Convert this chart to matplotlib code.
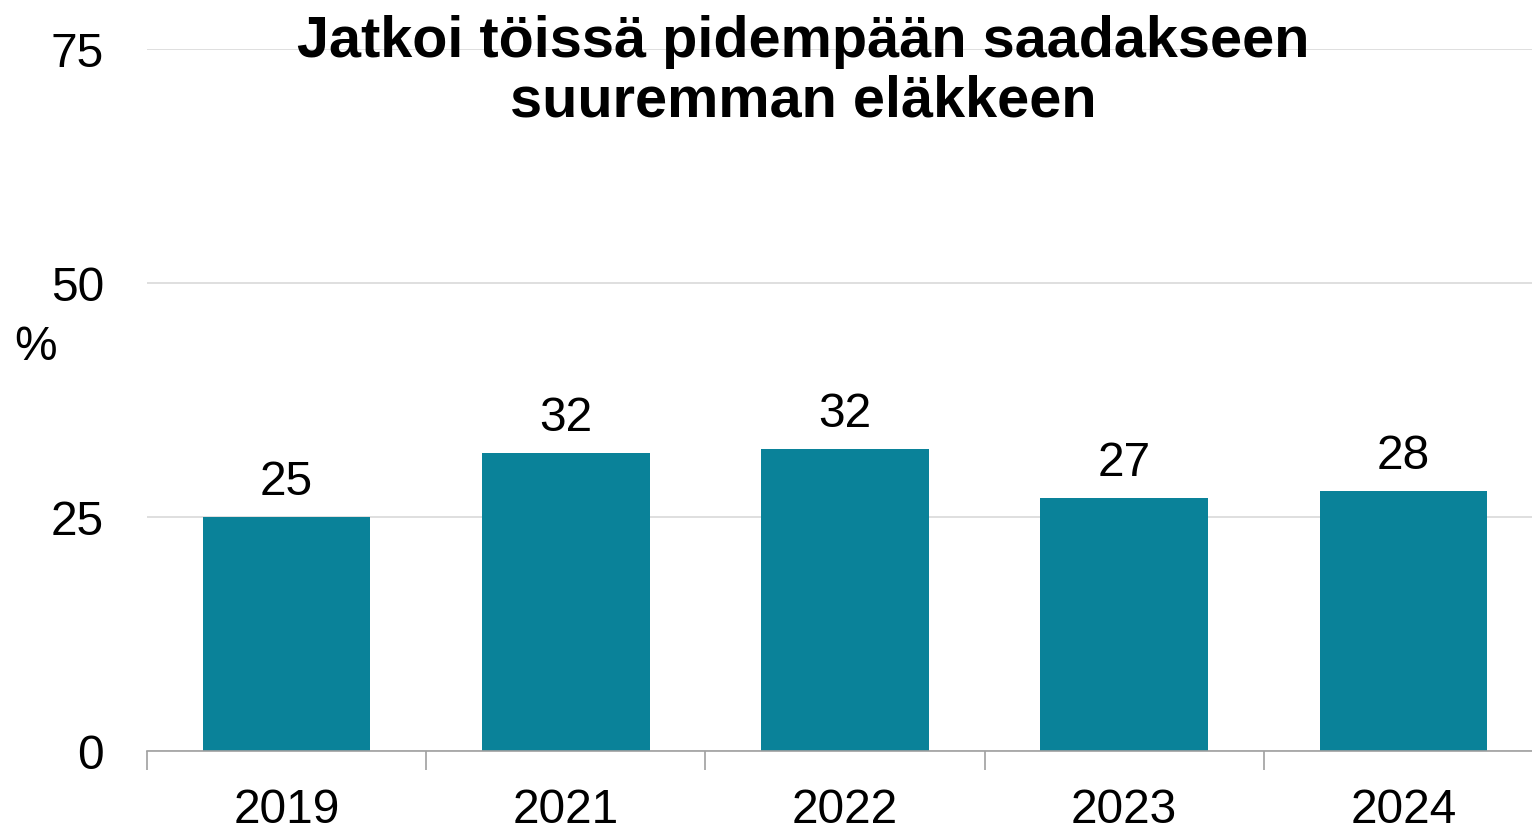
import numpy as np
import matplotlib.pyplot as plt

years = ["2019", "2021", "2022", "2023", "2024"]
values = [25.0, 31.8, 32.3, 27.0, 27.8]
labels = ["25", "32", "32", "27", "28"]
title = "Jatkoi töissä pidempään saadakseen\nsuuremman eläkkeen"

plt.rcParams['font.family'] = ['Liberation Sans', 'DejaVu Sans']

fig = plt.figure(figsize=(15.32, 8.29), dpi=100)
# plot area runs slightly past the right edge, like the original
ax = fig.add_axes([147 / 1532, 77 / 829, 1396 / 1532, (752 - 50) / 829])

x = np.arange(len(years))
ax.bar(x, values, width=0.6, color="#0a8299", zorder=3)
for xi, v, lab in zip(x, values, labels):
    ax.text(xi, v + 1.4, lab, ha="center", va="bottom", fontsize=34.5)

ax.set_xlim(-0.5, len(years) - 0.5)
ax.set_ylim(0, 75)
ax.set_yticks([0, 25, 50, 75])
ax.set_xticks(x)
ax.set_xticklabels(years)
ax.set_xticks(np.arange(-0.5, len(years)), minor=True)
ax.tick_params(axis="x", which="major", length=0, labelsize=34.5, pad=26)
ax.tick_params(axis="x", which="minor", length=14, color="#a0a0a0", width=1.2)
ax.tick_params(axis="y", length=0, labelsize=34.5, pad=31)

ax.grid(axis="y", color="#d9d9d9", linewidth=1.2, zorder=0)
for s in ["top", "right", "left"]:
    ax.spines[s].set_visible(False)
ax.spines["bottom"].set_color("#a0a0a0")
ax.spines["bottom"].set_linewidth(1.2)
ax.spines["bottom"].set_zorder(4)

fig.text(36 / 1532, 1 - 348 / 829, "%", fontsize=34.5, ha="center", va="center")
fig.text(803 / 1532, 1 - 72 / 829, title, fontsize=41.5, fontweight="bold",
         ha="center", va="center", linespacing=1.12)

fig.savefig("out.png", dpi=100)
